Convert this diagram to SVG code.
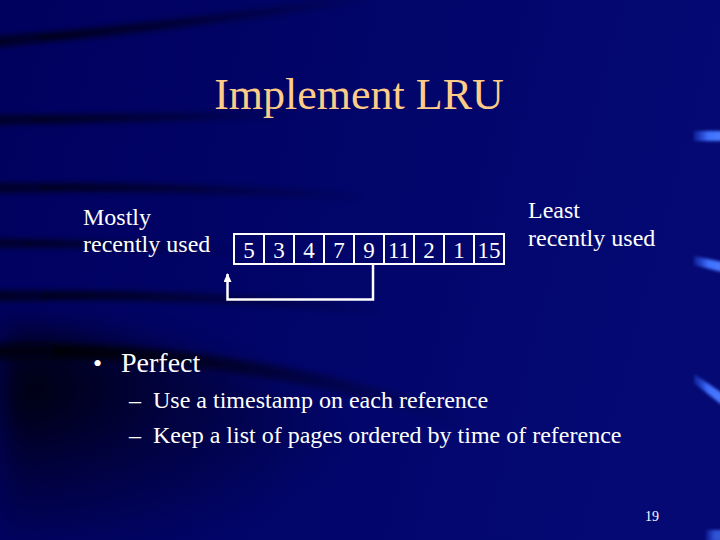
<svg xmlns="http://www.w3.org/2000/svg" width="720" height="540" viewBox="0 0 720 540">
<style>
.t{font-family:"Liberation Serif","Times New Roman",serif;fill:#ffffff}
.box rect{fill:none;stroke:#ffffff;stroke-width:2}
.box text{font-family:"Liberation Serif","Times New Roman",serif;fill:#ffffff;font-size:23px;text-anchor:middle}
.streak{fill:none;stroke-linecap:butt}
</style>
<defs>
<linearGradient id="bg" x1="0" y1="0" x2="1" y2="0.2">
<stop offset="0" stop-color="#00005e"/>
<stop offset="0.6" stop-color="#02056a"/>
<stop offset="1" stop-color="#040974"/>
</linearGradient>
<linearGradient id="fadeR" x1="0" y1="0" x2="1" y2="0">
<stop offset="0" stop-color="#000008" stop-opacity="0.95"/>
<stop offset="0.4" stop-color="#000008" stop-opacity="0.6"/>
<stop offset="1" stop-color="#000008" stop-opacity="0"/>
</linearGradient>
<radialGradient id="shadow" cx="0" cy="0.3" r="0.8">
<stop offset="0" stop-color="#000000" stop-opacity="0.9"/>
<stop offset="0.45" stop-color="#000000" stop-opacity="0.4"/>
<stop offset="1" stop-color="#000000" stop-opacity="0"/>
</radialGradient>
<linearGradient id="hlg" x1="0" y1="0" x2="1" y2="0">
<stop offset="0" stop-color="#2a55ee" stop-opacity="0.3"/>
<stop offset="0.5" stop-color="#3f70ff"/>
<stop offset="1" stop-color="#4a7cff"/>
</linearGradient>
<filter id="blur" x="-20%" y="-200%" width="140%" height="500%"><feGaussianBlur stdDeviation="3"/></filter>
<filter id="blur2" x="-30%" y="-30%" width="160%" height="160%"><feGaussianBlur stdDeviation="16"/></filter>
<filter id="blurh" x="-50%" y="-100%" width="200%" height="300%"><feGaussianBlur stdDeviation="1.8"/></filter>
<marker id="arr" markerWidth="9" markerHeight="8" viewBox="0 0 9 8" refX="8" refY="4" orient="auto" markerUnits="userSpaceOnUse">
<path d="M0,0 L9,4 L0,8 Z" fill="#ffffff"/>
</marker>
</defs>
<rect width="720" height="540" fill="url(#bg)"/>
<path d="M0,325 C170,330 350,385 460,540 L0,540 Z" fill="url(#shadow)" filter="url(#blur2)"/>
<g id="background" filter="url(#blur)">
<path class="streak" d="M-10,42 C120,32 260,14 380,-4" stroke="url(#fadeR)" stroke-width="8"/>
<path class="streak" d="M-10,120 C100,119 200,117 300,114" stroke="url(#fadeR)" stroke-width="7"/>
<path class="streak" d="M-10,188 C120,186 250,189 370,198" stroke="url(#fadeR)" stroke-width="7"/>
<path class="streak" d="M-10,243 C80,243 160,246 240,250" stroke="url(#fadeR)" stroke-width="6"/>
<path class="streak" d="M-10,296 C120,294 260,297 390,312" stroke="url(#fadeR)" stroke-width="8"/>
<path class="streak" d="M-10,352 C150,346 330,372 470,425" stroke="url(#fadeR)" stroke-width="14"/>
</g>
<g id="highlights" filter="url(#blurh)">
<path d="M694,131 L722,131 L722,141 L694,141 Z" fill="url(#hlg)"/>
<path d="M694,256 L722,262 L722,272 L694,265 Z" fill="url(#hlg)"/>
<path d="M694,374 L722,393 L722,405 L694,383 Z" fill="url(#hlg)"/>
<path d="M706,530 L722,530 L722,542 L706,542 Z" fill="url(#hlg)" opacity="0.7"/>
</g>
<g id="title">
<text x="359" y="109" font-family="'Liberation Serif','Times New Roman',serif" font-size="44" fill="#ffcc88" text-anchor="middle">Implement LRU</text>
</g>
<g id="label-mru">
<text class="t" font-size="24"><tspan x="83" y="225">Mostly</tspan><tspan x="83" y="252">recently used</tspan></text>
</g>
<g id="label-lru">
<text class="t" font-size="24"><tspan x="528" y="218">Least</tspan><tspan x="528" y="246">recently used</tspan></text>
</g>
<g id="page-5" class="box"><rect x="234" y="234" width="30" height="30"/><text x="249" y="258">5</text></g>
<g id="page-3" class="box"><rect x="264" y="234" width="30" height="30"/><text x="279" y="258">3</text></g>
<g id="page-4" class="box"><rect x="294" y="234" width="30" height="30"/><text x="309" y="258">4</text></g>
<g id="page-7" class="box"><rect x="324" y="234" width="30" height="30"/><text x="339" y="258">7</text></g>
<g id="page-9" class="box"><rect x="354" y="234" width="30" height="30"/><text x="369" y="258">9</text></g>
<g id="page-11" class="box"><rect x="384" y="234" width="30" height="30"/><text x="399" y="258">11</text></g>
<g id="page-2" class="box"><rect x="414" y="234" width="30" height="30"/><text x="429" y="258">2</text></g>
<g id="page-1" class="box"><rect x="444" y="234" width="30" height="30"/><text x="459" y="258">1</text></g>
<g id="page-15" class="box"><rect x="474" y="234" width="30" height="30"/><text x="489" y="258">15</text></g>
<g id="connectors">
<path d="M373,264 V299.5 H227.5 V274" fill="none" stroke="#ffffff" stroke-width="2.5" marker-end="url(#arr)"/>
</g>
<g id="bullets">
<text class="t" x="93" y="372" font-size="26">•</text>
<text class="t" x="121" y="372" font-size="28">Perfect</text>
<text class="t" x="129" y="408" font-size="24">–</text>
<text class="t" x="153" y="408" font-size="24">Use a timestamp on each reference</text>
<text class="t" x="129" y="443" font-size="24">–</text>
<text class="t" x="153" y="443" font-size="24">Keep a list of pages ordered by time of reference</text>
</g>
<g id="page-number">
<text class="t" x="652" y="521" font-size="14" text-anchor="middle">19</text>
</g>
</svg>
